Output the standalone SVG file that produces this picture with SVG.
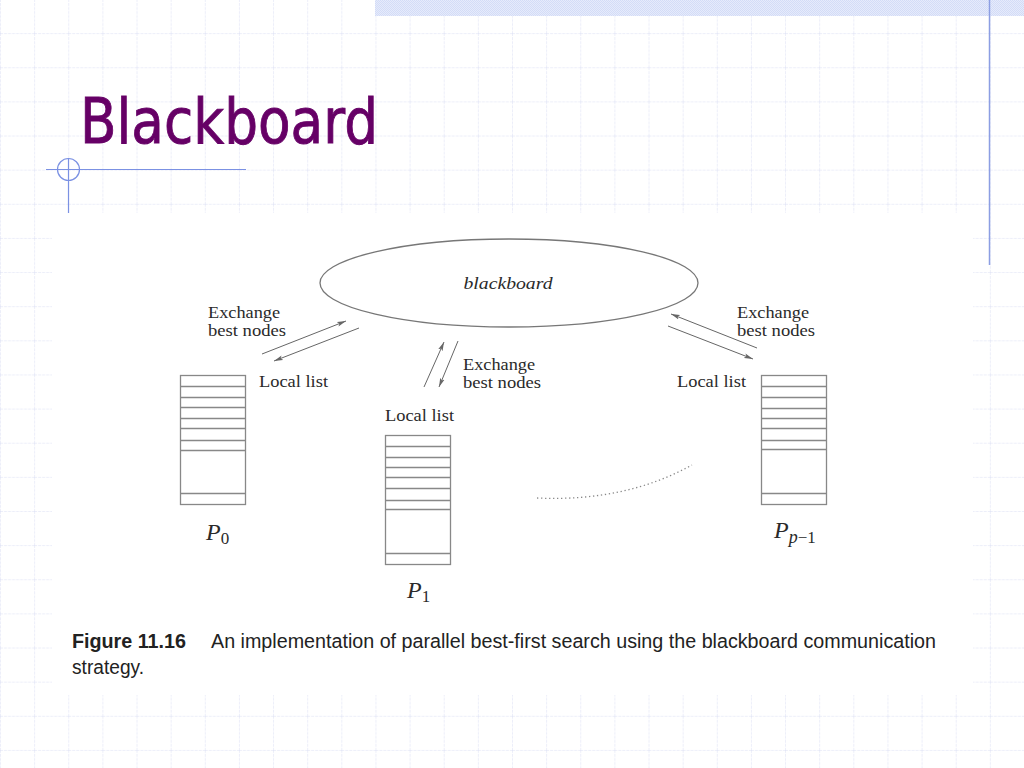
<svg xmlns="http://www.w3.org/2000/svg" width="1024" height="768" viewBox="0 0 1024 768">
<style>
.lbl{font-family:"Liberation Serif","Times New Roman",serif;font-size:16px;fill:#2a2a2a}
.it{font-family:"Liberation Serif","Times New Roman",serif;font-style:italic;fill:#2a2a2a}
.box rect{fill:#fff;stroke:#888;stroke-width:1.3}
.box line{stroke:#888;stroke-width:1.3}
.arr{stroke:#666;stroke-width:1;fill:none;marker-end:url(#ah)}
.cap{font-family:"Liberation Sans",Arial,sans-serif;font-size:20px;fill:#222}
</style>
<defs>
<pattern id="grid" patternUnits="userSpaceOnUse" width="34.133" height="34.133" x="0" y="-1">
<path d="M0,0 H34.133 M0,0 V34.133" stroke="#d9ddf3" stroke-width="1" stroke-dasharray="3,1" fill="none"/>
</pattern>
<pattern id="chk" patternUnits="userSpaceOnUse" width="2" height="2">
<rect width="2" height="2" fill="#e6ebfb"/>
<rect width="1" height="1" fill="#d3dcf7"/>
<rect x="1" y="1" width="1" height="1" fill="#d3dcf7"/>
</pattern>
<marker id="ah" markerWidth="10" markerHeight="6" refX="9" refY="3" orient="auto" markerUnits="userSpaceOnUse">
<path d="M0,0.6 L9,3 L0,5.4 L2,3 z" fill="#666"/>
</marker>
</defs>
<g id="background">
<rect width="1024" height="768" fill="#fff"/>
<rect width="1024" height="768" fill="url(#grid)"/>
<rect x="375" y="0" width="649" height="16" fill="url(#chk)"/>
<line x1="989.5" y1="0" x2="989.5" y2="265" stroke="#8c9ee3" stroke-width="1.5"/>
</g>
<g id="title">
<text x="80" y="143" font-family="DejaVu Sans,Verdana,sans-serif" font-size="62" fill="#660066" stroke="#660066" stroke-width="0.9" textLength="298" lengthAdjust="spacingAndGlyphs">Blackboard</text>
<line x1="46" y1="169.5" x2="246" y2="169.5" stroke="#7b91e3" stroke-width="1.2"/>
<line x1="68.5" y1="158" x2="68.5" y2="213" stroke="#7b91e3" stroke-width="1.2"/>
<circle cx="68.5" cy="169.5" r="11" fill="none" stroke="#7b91e3" stroke-width="1.2"/>
</g>
<rect id="figure-bg" x="52" y="213" width="921" height="482" fill="#fff"/>
<g id="blackboard">
<ellipse cx="509" cy="283" rx="189" ry="44" fill="#fff" stroke="#777" stroke-width="1.3"/>
<text class="it" x="508" y="289" font-size="17.5" text-anchor="middle" textLength="89" lengthAdjust="spacingAndGlyphs">blackboard</text>
</g>
<g id="connectors">
<line class="arr" x1="262" y1="354" x2="346" y2="321"/>
<line class="arr" x1="359" y1="328" x2="274" y2="361"/>
<line class="arr" x1="424" y1="387" x2="444" y2="342"/>
<line class="arr" x1="458" y1="341" x2="439" y2="387"/>
<line class="arr" x1="757" y1="348" x2="671" y2="314"/>
<line class="arr" x1="668" y1="326" x2="753" y2="359"/>
<path d="M537,498 Q625,502 692,465" stroke="#888" stroke-width="1.3" fill="none" stroke-dasharray="1.3,2.7"/>
</g>
<g id="labels">
<text class="lbl" x="208" y="318" textLength="72" lengthAdjust="spacingAndGlyphs">Exchange</text>
<text class="lbl" x="208" y="336" textLength="78" lengthAdjust="spacingAndGlyphs">best nodes</text>
<text class="lbl" x="463" y="370" textLength="72" lengthAdjust="spacingAndGlyphs">Exchange</text>
<text class="lbl" x="463" y="388" textLength="78" lengthAdjust="spacingAndGlyphs">best nodes</text>
<text class="lbl" x="737" y="318" textLength="72" lengthAdjust="spacingAndGlyphs">Exchange</text>
<text class="lbl" x="737" y="336" textLength="78" lengthAdjust="spacingAndGlyphs">best nodes</text>
<text class="lbl" x="259" y="387" textLength="69" lengthAdjust="spacingAndGlyphs">Local list</text>
<text class="lbl" x="385" y="421" textLength="69" lengthAdjust="spacingAndGlyphs">Local list</text>
<text class="lbl" x="677" y="387" textLength="69" lengthAdjust="spacingAndGlyphs">Local list</text>
</g>
<g id="P0" class="box">
<rect x="180.5" y="375.5" width="65" height="129"/>
<line x1="180.5" y1="386.5" x2="245.5" y2="386.5"/>
<line x1="180.5" y1="397.5" x2="245.5" y2="397.5"/>
<line x1="180.5" y1="407.5" x2="245.5" y2="407.5"/>
<line x1="180.5" y1="418.5" x2="245.5" y2="418.5"/>
<line x1="180.5" y1="428.5" x2="245.5" y2="428.5"/>
<line x1="180.5" y1="440.5" x2="245.5" y2="440.5"/>
<line x1="180.5" y1="450.5" x2="245.5" y2="450.5"/>
<line x1="180.5" y1="493.5" x2="245.5" y2="493.5"/>
<text class="it" x="206" y="540" font-size="24">P<tspan font-style="normal" font-size="17" dy="4">0</tspan></text>
</g>
<g id="P1" class="box">
<rect x="385.5" y="435.5" width="65" height="129"/>
<line x1="385.5" y1="446.5" x2="450.5" y2="446.5"/>
<line x1="385.5" y1="457.5" x2="450.5" y2="457.5"/>
<line x1="385.5" y1="467.5" x2="450.5" y2="467.5"/>
<line x1="385.5" y1="477.5" x2="450.5" y2="477.5"/>
<line x1="385.5" y1="488.5" x2="450.5" y2="488.5"/>
<line x1="385.5" y1="500.5" x2="450.5" y2="500.5"/>
<line x1="385.5" y1="509.5" x2="450.5" y2="509.5"/>
<line x1="385.5" y1="553.5" x2="450.5" y2="553.5"/>
<text class="it" x="407" y="598" font-size="24">P<tspan font-style="normal" font-size="17" dy="4">1</tspan></text>
</g>
<g id="Pp-1" class="box">
<rect x="761.5" y="375.5" width="65" height="129"/>
<line x1="761.5" y1="386.5" x2="826.5" y2="386.5"/>
<line x1="761.5" y1="397.5" x2="826.5" y2="397.5"/>
<line x1="761.5" y1="408.5" x2="826.5" y2="408.5"/>
<line x1="761.5" y1="418.5" x2="826.5" y2="418.5"/>
<line x1="761.5" y1="428.5" x2="826.5" y2="428.5"/>
<line x1="761.5" y1="440.5" x2="826.5" y2="440.5"/>
<line x1="761.5" y1="449.5" x2="826.5" y2="449.5"/>
<line x1="761.5" y1="493.5" x2="826.5" y2="493.5"/>
<text class="it" x="774" y="538" font-size="24">P<tspan font-size="18" dy="5">p</tspan><tspan font-style="normal" font-size="17">−1</tspan></text>
</g>
<g id="caption">
<text class="cap" x="72" y="648" font-weight="bold" textLength="114" lengthAdjust="spacingAndGlyphs">Figure 11.16</text>
<text class="cap" x="211" y="648" textLength="725" lengthAdjust="spacingAndGlyphs">An implementation of parallel best-first search using the blackboard communication</text>
<text class="cap" x="72" y="674" textLength="72" lengthAdjust="spacingAndGlyphs">strategy.</text>
</g>
</svg>
